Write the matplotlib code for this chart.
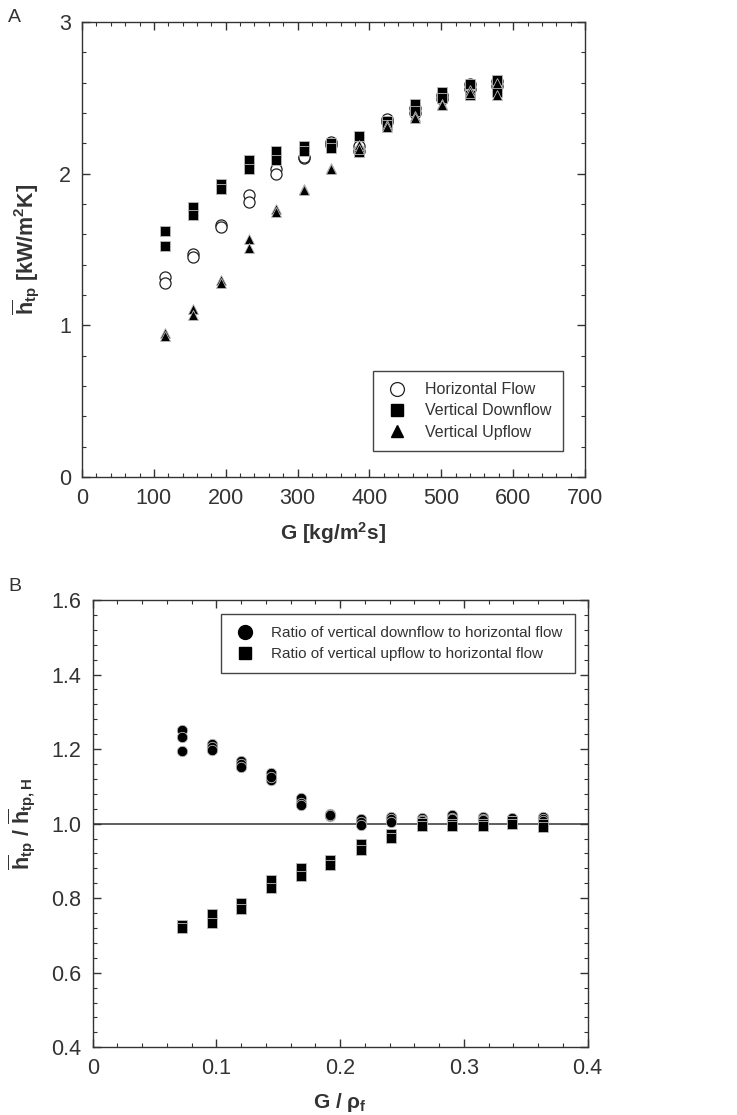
import matplotlib
matplotlib.use("Agg")
import matplotlib.pyplot as plt
from matplotlib.ticker import MultipleLocator

plt.rcParams.update({
    "font.family": ["Liberation Sans", "DejaVu Sans"],
    "mathtext.fontset": "custom",
    "mathtext.rm": "Liberation Sans:bold",
    "mathtext.bf": "Liberation Sans:bold",
    "mathtext.it": "Liberation Sans:bold",
    "mathtext.default": "bf",
})

# ── Data: panel A ────────────────────────────────────────────────────────────
G = [116, 155, 193, 232, 270, 309, 347, 386, 424, 463, 501, 540, 578]
h_horiz_a = [1.32, 1.47, 1.66, 1.86, 2.03, 2.10, 2.21, 2.18, 2.36, 2.43, 2.52, 2.59, 2.61]
h_horiz_b = [1.28, 1.45, 1.65, 1.81, 2.00, 2.11, 2.19, 2.15, 2.34, 2.40, 2.49, 2.56, 2.58]
h_down_a = [1.62, 1.78, 1.93, 2.09, 2.15, 2.18, 2.20, 2.25, 2.35, 2.46, 2.54, 2.59, 2.62]
h_down_b = [1.52, 1.73, 1.90, 2.03, 2.09, 2.15, 2.17, 2.14, 2.32, 2.41, 2.50, 2.52, 2.54]
h_up_a = [0.95, 1.11, 1.30, 1.57, 1.77, 1.90, 2.04, 2.19, 2.32, 2.38, 2.46, 2.55, 2.60]
h_up_b = [0.93, 1.07, 1.28, 1.51, 1.75, 1.89, 2.03, 2.16, 2.31, 2.37, 2.45, 2.53, 2.52]

# ── Data: panel B ────────────────────────────────────────────────────────────
Gr = [0.072, 0.096, 0.120, 0.144, 0.168, 0.192, 0.217, 0.241, 0.266, 0.290, 0.315, 0.339, 0.364]
r_down_a = [1.250, 1.215, 1.168, 1.135, 1.068, 1.025, 1.012, 1.018, 1.015, 1.022, 1.018, 1.015, 1.018]
r_down_b = [1.233, 1.205, 1.160, 1.118, 1.055, 1.020, 1.005, 1.012, 1.010, 1.015, 1.012, 1.008, 1.012]
r_down_c = [1.196, 1.197, 1.153, 1.124, 1.050, 1.022, 0.997, 1.005, 1.008, 1.012, 1.010, 1.003, 1.008]
r_up_a = [0.728, 0.758, 0.787, 0.848, 0.882, 0.902, 0.946, 0.973, 1.002, 1.000, 1.000, 1.008, 1.000]
r_up_b = [0.720, 0.733, 0.772, 0.828, 0.860, 0.889, 0.930, 0.962, 0.994, 0.994, 0.994, 1.000, 0.990]

SPINE = "#333333"
TXT = "#333333"


def style(ax):
    for s in ax.spines.values():
        s.set_color(SPINE); s.set_linewidth(1.0)
    ax.tick_params(which="both", direction="in", top=True, right=True,
                   colors=SPINE, labelcolor=TXT, labelsize=15.5)
    ax.tick_params(which="major", length=6, width=1.0, pad=8)
    ax.tick_params(which="minor", length=3, width=0.8)


fig = plt.figure(figsize=(7.37, 11.15), dpi=100)

# ── Panel A ──────────────────────────────────────────────────────────────────
ax1 = fig.add_axes([0.1113, 0.5722, 0.6825, 0.4081])
mk = dict(linestyle="none", markeredgewidth=0.6)
for y in (h_horiz_a, h_horiz_b):
    ax1.plot(G, y, marker="o", ms=8.0, mfc="white", mec="#222222", linestyle="none", mew=0.9)
for y in (h_down_a, h_down_b):
    ax1.plot(G, y, marker="s", ms=6.5, color="black", mec="#bbbbbb", **mk)
for y in (h_up_a, h_up_b):
    ax1.plot(G, y, marker="^", ms=7.5, color="black", mec="#bbbbbb", **mk)

h1 = ax1.plot([], [], marker="o", ms=10, mfc="white", mec="#222222", mew=0.9, linestyle="none")[0]
h2 = ax1.plot([], [], marker="s", ms=8, color="black", linestyle="none")[0]
h3 = ax1.plot([], [], marker="^", ms=9, color="black", linestyle="none")[0]
leg1 = ax1.legend([h1, h2, h3], ["Horizontal Flow", "Vertical Downflow", "Vertical Upflow"],
                  loc="lower right", bbox_to_anchor=(0.956, 0.057), borderaxespad=0,
                  fontsize=11.5, fancybox=False, edgecolor="#444444", framealpha=1,
                  handletextpad=1.0, borderpad=0.7, labelspacing=0.4, handlelength=1.6)
leg1.get_frame().set_linewidth(1.0)
for t in leg1.get_texts():
    t.set_color(TXT)

ax1.set_xlim(0, 700); ax1.set_ylim(0, 3)
ax1.xaxis.set_major_locator(MultipleLocator(100)); ax1.xaxis.set_minor_locator(MultipleLocator(20))
ax1.yaxis.set_major_locator(MultipleLocator(1)); ax1.yaxis.set_minor_locator(MultipleLocator(0.2))
style(ax1)
ax1.set_xlabel(r"G [kg/m$^2$s]", fontsize=15, fontweight="bold", color=TXT, labelpad=8)
ax1.set_ylabel(r"$\overline{h}_{tp}$ [kW/m$^2$K]", fontsize=15.5, fontweight="bold",
               color=TXT, labelpad=12)

# ── Panel B ──────────────────────────────────────────────────────────────────
ax2 = fig.add_axes([0.1258, 0.0607, 0.6716, 0.4012])
ax2.axhline(1.0, color="#444444", linewidth=1.2, zorder=1)
for y in (r_down_a, r_down_b, r_down_c):
    ax2.plot(Gr, y, marker="o", ms=7.5, color="black", mec="#bbbbbb", zorder=3, **mk)
for y in (r_up_a, r_up_b):
    ax2.plot(Gr, y, marker="s", ms=6.5, color="black", mec="#bbbbbb", zorder=3, **mk)

g1 = ax2.plot([], [], marker="o", ms=10, color="black", linestyle="none")[0]
g2 = ax2.plot([], [], marker="s", ms=8, color="black", linestyle="none")[0]
leg2 = ax2.legend([g1, g2], ["Ratio of vertical downflow to horizontal flow",
                             "Ratio of vertical upflow to horizontal flow"],
                  loc="upper right", bbox_to_anchor=(0.974, 0.969), borderaxespad=0,
                  fontsize=11, fancybox=False, edgecolor="#444444", framealpha=1,
                  handletextpad=0.9, borderpad=0.8, labelspacing=0.45, handlelength=1.6)
leg2.get_frame().set_linewidth(1.0)
for t in leg2.get_texts():
    t.set_color(TXT)

ax2.set_xlim(0, 0.4); ax2.set_ylim(0.4, 1.6)
ax2.set_xticks([0, 0.1, 0.2, 0.3, 0.4])
ax2.set_xticklabels(["0", "0.1", "0.2", "0.3", "0.4"])
ax2.set_yticks([0.4, 0.6, 0.8, 1.0, 1.2, 1.4, 1.6])
ax2.set_yticklabels(["0.4", "0.6", "0.8", "1.0", "1.2", "1.4", "1.6"])
ax2.xaxis.set_minor_locator(MultipleLocator(0.02))
ax2.yaxis.set_minor_locator(MultipleLocator(0.04))
style(ax2)
ax2.set_xlabel(r"G / $\rho_f$", fontsize=15, fontweight="bold", color=TXT, labelpad=8)
ax2.set_ylabel(r"$\overline{h}_{tp}$ / $\overline{h}_{tp,H}$", fontsize=15.5, fontweight="bold",
               color=TXT, labelpad=10)

fig.text(0.011, 0.992, "A", fontsize=14, color=TXT, va="top")
fig.text(0.011, 0.482, "B", fontsize=14, color=TXT, va="top")

fig.savefig("out.png", dpi=100)
